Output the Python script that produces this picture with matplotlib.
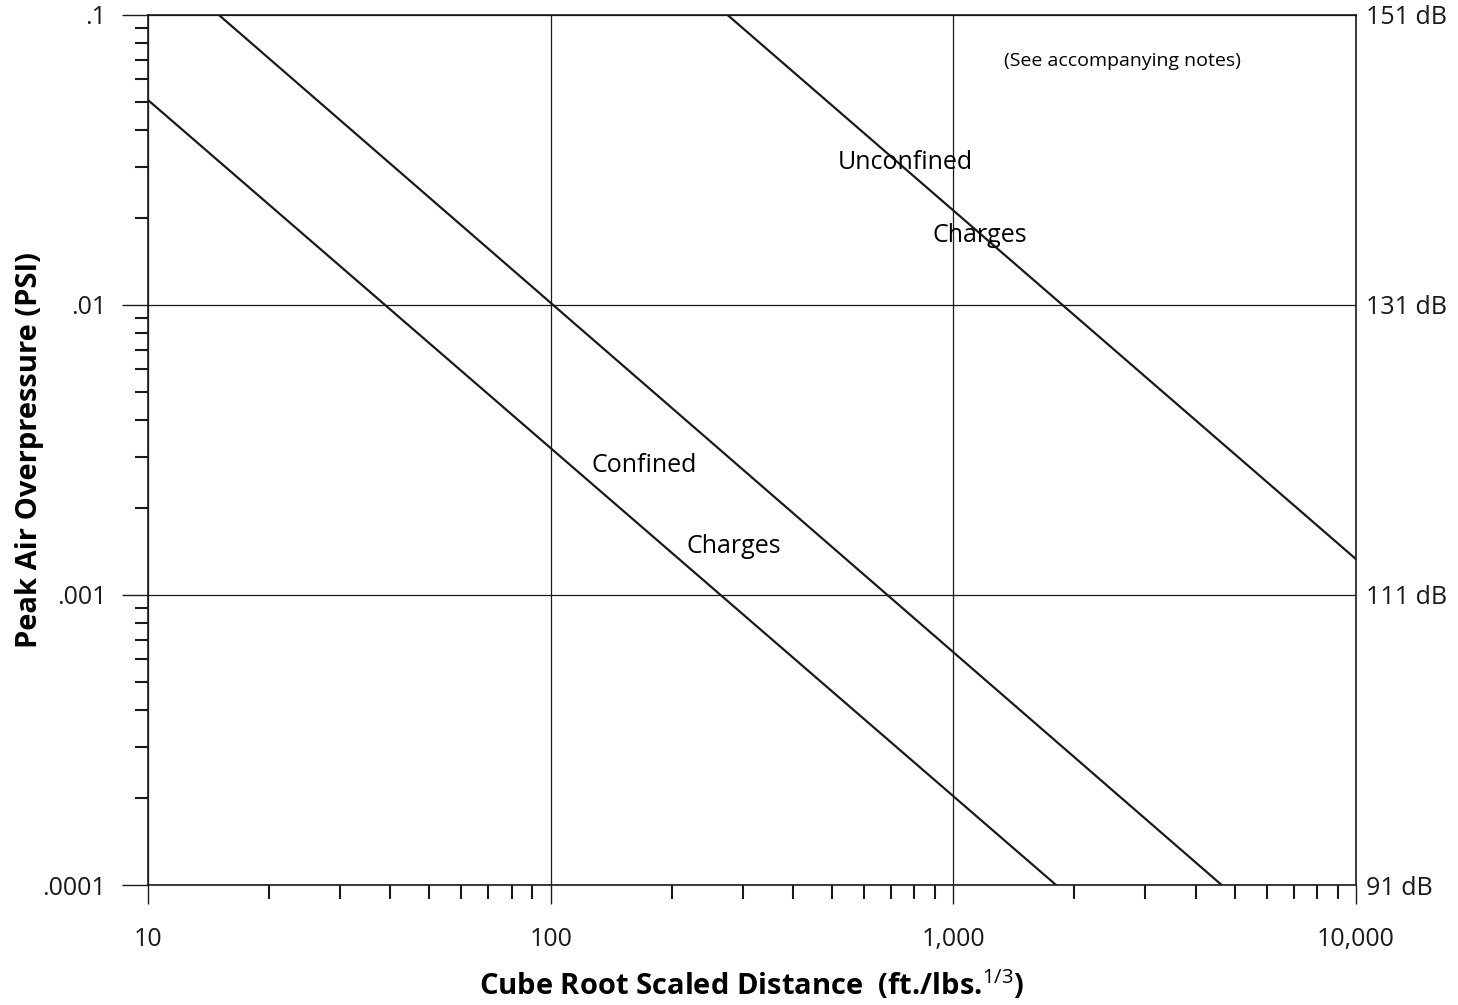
import matplotlib
matplotlib.use("Agg")
from matplotlib import pyplot as plt
from matplotlib.ticker import FixedLocator, LogLocator, NullFormatter

plt.rcParams["font.family"] = ["Open Sans", "DejaVu Sans"]
plt.rcParams["mathtext.fontset"] = "custom"
plt.rcParams["mathtext.rm"] = "Open Sans"
plt.rcParams["mathtext.bf"] = "Open Sans:bold"

# Line endpoints (straight lines on log-log axes).
unconfined_x = [275, 10000]
unconfined_y = [0.1, 0.00133]
confined_upper_x = [15, 4640]
confined_upper_y = [0.1, 0.0001]
confined_lower_x = [10, 1800]
confined_lower_y = [0.0509, 0.0001]

x_ticks = [10, 100, 1000, 10000]
x_labels = ["10", "100", "1,000", "10,000"]
y_ticks = [0.0001, 0.001, 0.01, 0.1]
y_labels = [".0001", ".001", ".01", ".1"]
db_labels = ["91 dB", "111 dB", "131 dB", "151 dB"]

ink = "#1a1a1a"

fig = plt.figure(figsize=(14.58, 10.05), dpi=100)
ax = fig.add_axes([0.1015, 0.1194, 0.8285, 0.8657])

for xs, ys in [(unconfined_x, unconfined_y),
               (confined_upper_x, confined_upper_y),
               (confined_lower_x, confined_lower_y)]:
    ax.plot(xs, ys, color=ink, linewidth=1.6, zorder=3)

ax.set_xscale("log")
ax.set_yscale("log")
ax.set_xlim(10, 10000)
ax.set_ylim(0.0001, 0.1)

ax.xaxis.set_major_locator(FixedLocator(x_ticks))
ax.set_xticklabels(x_labels)
ax.yaxis.set_major_locator(FixedLocator(y_ticks))
ax.set_yticklabels(y_labels)
ax.xaxis.set_minor_locator(LogLocator(base=10, subs=range(2, 10)))
ax.yaxis.set_minor_locator(LogLocator(base=10, subs=range(2, 10)))
ax.xaxis.set_minor_formatter(NullFormatter())
ax.yaxis.set_minor_formatter(NullFormatter())

ax.tick_params(axis="x", which="major", direction="out", length=14,
               width=1, labelsize=18, colors=ink, pad=16)
ax.tick_params(axis="x", which="minor", direction="out", length=10,
               width=1.5, colors=ink)
ax.tick_params(axis="y", which="major", direction="out", length=19,
               width=1, labelsize=18, colors=ink, pad=11)
ax.tick_params(axis="y", which="minor", direction="out", length=9.5,
               width=1.5, colors=ink)

ax.grid(True, which="major", color=ink, linewidth=0.9)
for s in ax.spines.values():
    s.set_color(ink)
    s.set_linewidth(1.2)

# dB scale on the right
ax2 = ax.twinx()
ax2.set_yscale("log")
ax2.set_ylim(ax.get_ylim())
ax2.yaxis.set_major_locator(FixedLocator(y_ticks))
ax2.set_yticklabels(db_labels)
ax2.yaxis.set_minor_locator(FixedLocator([]))
ax2.tick_params(axis="y", length=0, labelsize=18, colors=ink, pad=7)
for s in ax2.spines.values():
    s.set_visible(False)

ax.set_xlabel("Cube Root Scaled Distance  (ft./lbs.$^{\\mathrm{1/3}}$)",
              fontsize=21, fontweight="bold", va="center")
ax.set_ylabel("Peak Air Overpressure (PSI)", fontsize=21,
              fontweight="bold", va="center")
ax.xaxis.set_label_coords(0.5, -0.115)
ax.yaxis.set_label_coords(-0.098, 0.5)

ax.text(759, 0.0309, "Unconfined", fontsize=18, ha="center", va="center")
ax.text(1165, 0.0174, "Charges", fontsize=18, ha="center", va="center")
ax.text(171, 0.00279, "Confined", fontsize=18, ha="center", va="center")
ax.text(285, 0.00147, "Charges", fontsize=18, ha="center", va="center")
ax.text(2637, 0.0693, "(See accompanying notes)", fontsize=14,
        ha="center", va="center")

plt.savefig("out.png", dpi=100)
